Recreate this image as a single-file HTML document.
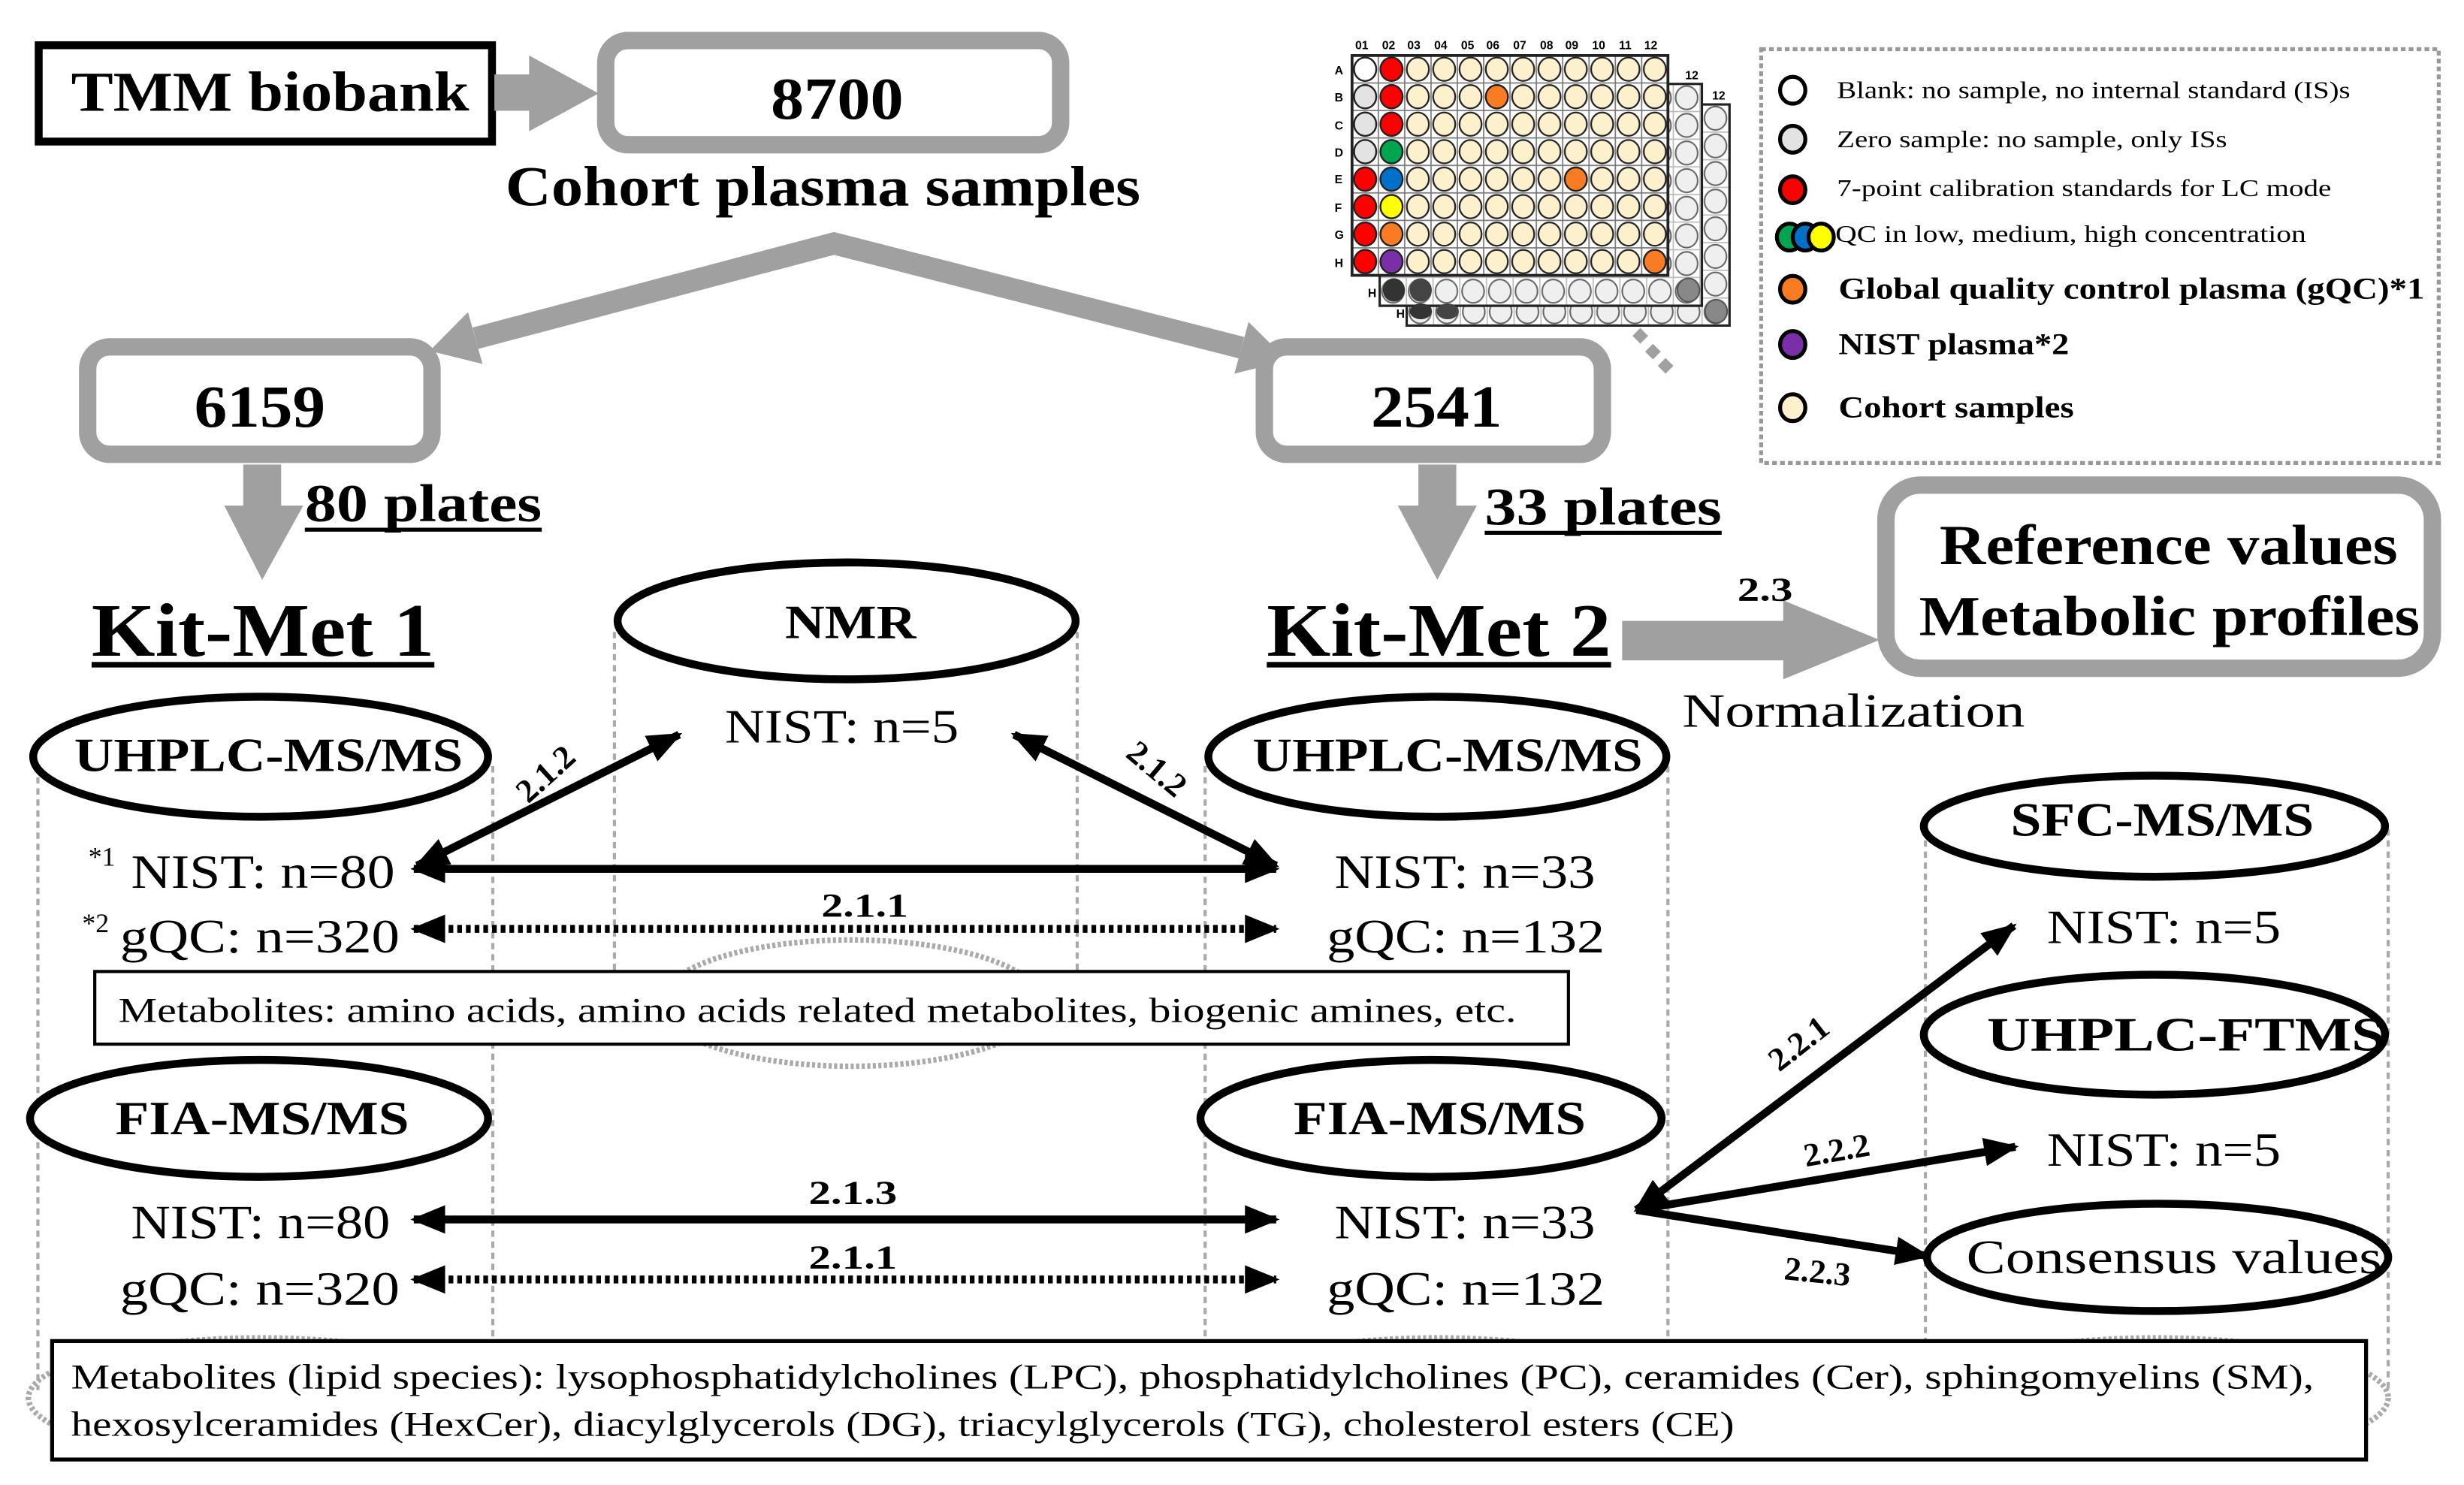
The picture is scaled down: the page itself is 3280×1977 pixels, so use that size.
<!DOCTYPE html>
<html><head><meta charset="utf-8"><style>
html,body{margin:0;padding:0;background:#fff;}
svg{display:block;}
text{font-family:"Liberation Serif",serif;fill:#000;}
.b{font-weight:bold;}
.s{font-family:"Liberation Sans",sans-serif;font-weight:bold;font-size:7.5px;}
</style></head><body>
<svg width="3280" height="1977" viewBox="0 0 1560 940" xmlns="http://www.w3.org/2000/svg">
<defs>
<marker id="ah" viewBox="0 0 10 10" refX="9" refY="5" markerWidth="22" markerHeight="18" markerUnits="userSpaceOnUse" orient="auto-start-reverse" preserveAspectRatio="none"><path d="M0,0 L10,5 L0,10 z" fill="#000"/></marker>
<pattern id="pf" patternUnits="userSpaceOnUse" x="856" y="35" width="16.67" height="17.4"><rect x="0" y="0" width="16.67" height="17.4" fill="#fff" stroke="#777" stroke-width="0.8"/><ellipse cx="8.33" cy="8.7" rx="7" ry="7.4" fill="#fdf0cc" stroke="#222" stroke-width="1.1"/></pattern>
<pattern id="pb" patternUnits="userSpaceOnUse" x="873.5" y="53" width="16.9" height="17.5"><rect x="0" y="0" width="16.9" height="17.5" fill="#fff" stroke="#bbb" stroke-width="0.8"/><ellipse cx="8.45" cy="8.75" rx="7" ry="7.4" fill="#efefef" stroke="#666" stroke-width="1"/></pattern>
<pattern id="pc" patternUnits="userSpaceOnUse" x="890.6" y="66" width="17" height="17.5"><rect x="0" y="0" width="17" height="17.5" fill="#fff" stroke="#bbb" stroke-width="0.8"/><ellipse cx="8.5" cy="8.75" rx="7" ry="7.4" fill="#efefef" stroke="#666" stroke-width="1"/></pattern>
</defs>

<!-- top flow -->
<rect x="24.5" y="28.5" width="287" height="61" fill="#fff" stroke="#000" stroke-width="5"/>
<text x="45" y="70" class="b" font-size="36" textLength="252" lengthAdjust="spacingAndGlyphs">TMM biobank</text>
<rect x="313" y="47" width="24" height="23" fill="#a0a0a0"/>
<polygon points="335,35 379,59 335,83" fill="#a0a0a0"/>
<rect x="383.5" y="25.5" width="288" height="66" rx="14" fill="#fff" stroke="#a0a0a0" stroke-width="11"/>
<text x="488" y="75" class="b" font-size="38" textLength="84" lengthAdjust="spacingAndGlyphs">8700</text>
<text x="320" y="130" class="b" font-size="36" textLength="402" lengthAdjust="spacingAndGlyphs">Cohort plasma samples</text>

<polyline points="301,214 528,154 786,220" fill="none" stroke="#a0a0a0" stroke-width="14" stroke-linejoin="miter"/>
<polygon points="272,222 305.5,230.3 296.3,197.5" fill="#a0a0a0"/>
<polygon points="815,228 781.5,236.5 790.5,203.7" fill="#a0a0a0"/>

<rect x="55.5" y="219.5" width="218" height="68" rx="14" fill="#fff" stroke="#a0a0a0" stroke-width="11"/>
<text x="123" y="270" class="b" font-size="38" textLength="83" lengthAdjust="spacingAndGlyphs">6159</text>
<rect x="800.5" y="219.5" width="214" height="68" rx="14" fill="#fff" stroke="#a0a0a0" stroke-width="11"/>
<text x="868" y="270" class="b" font-size="38" textLength="83" lengthAdjust="spacingAndGlyphs">2541</text>

<rect x="154" y="294" width="24" height="28" fill="#a0a0a0"/>
<polygon points="142,320 192,320 166,367" fill="#a0a0a0"/>
<text x="193" y="330" class="b" font-size="34" textLength="150" lengthAdjust="spacingAndGlyphs">80 plates</text>
<rect x="193" y="334" width="150" height="2.5" fill="#000"/>
<rect x="898" y="294" width="24" height="28" fill="#a0a0a0"/>
<polygon points="885,320 935,320 910,367" fill="#a0a0a0"/>
<text x="940" y="332" class="b" font-size="34" textLength="150" lengthAdjust="spacingAndGlyphs">33 plates</text>
<rect x="940" y="336" width="150" height="2.5" fill="#000"/>

<text x="58" y="415" class="b" font-size="48" textLength="217" lengthAdjust="spacingAndGlyphs">Kit-Met 1</text>
<rect x="58" y="419" width="217" height="3.5" fill="#000"/>
<text x="802" y="415" class="b" font-size="48" textLength="218" lengthAdjust="spacingAndGlyphs">Kit-Met 2</text>
<rect x="802" y="419" width="218" height="3.5" fill="#000"/>

<!-- plate -->
<g>
<rect x="890.6" y="66" width="204.4" height="140" fill="url(#pc)" stroke="#222" stroke-width="1.5"/>
<rect x="873.5" y="53" width="204" height="140.5" fill="url(#pb)" stroke="#222" stroke-width="1.5"/>
<rect x="856" y="35" width="200" height="139.2" fill="url(#pf)" stroke="#222" stroke-width="1.8"/>
<ellipse cx="882.5" cy="183.5" rx="7" ry="7.4" fill="#333"/><ellipse cx="899.5" cy="183.5" rx="7" ry="7.4" fill="#444"/>
<ellipse cx="1069" cy="183.5" rx="7" ry="7.4" fill="#888" stroke="#555"/>
<ellipse cx="1086.5" cy="197" rx="7" ry="7.4" fill="#888" stroke="#555"/>
<ellipse cx="899.5" cy="197" rx="7" ry="5" fill="#333"/><ellipse cx="916.5" cy="197" rx="7" ry="5" fill="#444"/>
<text x="1067" y="50" class="s">12</text><text x="1084" y="63" class="s">12</text>
<text x="866" y="188" class="s">H</text><text x="884" y="201" class="s">H</text>
<g class="s">
<text x="858" y="31" class="s">01</text><text x="875" y="31" class="s">02</text><text x="891" y="31" class="s">03</text><text x="908" y="31" class="s">04</text><text x="925" y="31" class="s">05</text><text x="941" y="31" class="s">06</text><text x="958" y="31" class="s">07</text><text x="975" y="31" class="s">08</text><text x="991" y="31" class="s">09</text><text x="1008" y="31" class="s">10</text><text x="1025" y="31" class="s">11</text><text x="1041" y="31" class="s">12</text>
<text x="845" y="47" class="s">A</text><text x="845" y="64" class="s">B</text><text x="845" y="82" class="s">C</text><text x="845" y="99" class="s">D</text><text x="845" y="116" class="s">E</text><text x="845" y="134" class="s">F</text><text x="845" y="151" class="s">G</text><text x="845" y="169" class="s">H</text>
</g>
<g stroke="#222" stroke-width="1.1">
<ellipse cx="864.3" cy="43.7" rx="7" ry="7.4" fill="#fff"/>
<ellipse cx="864.3" cy="61.1" rx="7" ry="7.4" fill="#e3e3e3"/>
<ellipse cx="864.3" cy="78.5" rx="7" ry="7.4" fill="#e3e3e3"/>
<ellipse cx="864.3" cy="95.9" rx="7" ry="7.4" fill="#e3e3e3"/>
<ellipse cx="864.3" cy="113.3" rx="7" ry="7.4" fill="#f00"/>
<ellipse cx="864.3" cy="130.7" rx="7" ry="7.4" fill="#f00"/>
<ellipse cx="864.3" cy="148.1" rx="7" ry="7.4" fill="#f00"/>
<ellipse cx="864.3" cy="165.5" rx="7" ry="7.4" fill="#f00"/>
<ellipse cx="881" cy="43.7" rx="7" ry="7.4" fill="#f00"/>
<ellipse cx="881" cy="61.1" rx="7" ry="7.4" fill="#f00"/>
<ellipse cx="881" cy="78.5" rx="7" ry="7.4" fill="#f00"/>
<ellipse cx="881" cy="95.9" rx="7" ry="7.4" fill="#00a550"/>
<ellipse cx="881" cy="113.3" rx="7" ry="7.4" fill="#0070c8"/>
<ellipse cx="881" cy="130.7" rx="7" ry="7.4" fill="#ff0"/>
<ellipse cx="881" cy="148.1" rx="7" ry="7.4" fill="#f97b22"/>
<ellipse cx="881" cy="165.5" rx="7" ry="7.4" fill="#7a2ea8"/>
<ellipse cx="947.7" cy="61.1" rx="7" ry="7.4" fill="#f97b22"/>
<ellipse cx="997.7" cy="113.3" rx="7" ry="7.4" fill="#f97b22"/>
<ellipse cx="1047.7" cy="165.5" rx="7" ry="7.4" fill="#f97b22"/>
</g>
<g fill="#a0a0a0"><rect x="1035" y="209" width="7" height="7" transform="rotate(45 1038.5 212.5)"/><rect x="1043" y="219" width="7" height="7" transform="rotate(45 1046.5 222.5)"/><rect x="1051" y="228" width="7" height="7" transform="rotate(45 1054.5 231.5)"/></g>
</g>

<!-- legend -->
<rect x="1115" y="31" width="429" height="262" fill="none" stroke="#999" stroke-width="2.5" stroke-dasharray="3 2"/>
<g stroke="#000" stroke-width="2.5">
<ellipse cx="1135" cy="57" rx="8" ry="8.5" fill="#fff"/>
<ellipse cx="1135" cy="88" rx="8" ry="8.5" fill="#e3e3e3"/>
<ellipse cx="1135" cy="120" rx="8" ry="8.5" fill="#f00"/>
<ellipse cx="1133" cy="150" rx="8" ry="8.5" fill="#00a550"/>
<ellipse cx="1143" cy="150" rx="8" ry="8.5" fill="#0070c8"/>
<ellipse cx="1153" cy="150" rx="8" ry="8.5" fill="#ff0"/>
<ellipse cx="1135" cy="183" rx="8" ry="8.5" fill="#f97b22"/>
<ellipse cx="1135" cy="218" rx="8" ry="8.5" fill="#7a2ea8"/>
<ellipse cx="1135" cy="258" rx="8" ry="8.5" fill="#fdf0cc"/>
</g>
<text x="1163" y="62" font-size="15" textLength="325" lengthAdjust="spacingAndGlyphs">Blank: no sample, no internal standard (IS)s</text>
<text x="1163" y="93" font-size="15" textLength="247" lengthAdjust="spacingAndGlyphs">Zero sample: no sample, only ISs</text>
<text x="1163" y="124" font-size="15" textLength="313" lengthAdjust="spacingAndGlyphs">7-point calibration standards for LC mode</text>
<text x="1162" y="153" font-size="15" textLength="298" lengthAdjust="spacingAndGlyphs">QC in low, medium, high concentration</text>
<text x="1164" y="189" class="b" font-size="19" textLength="371" lengthAdjust="spacingAndGlyphs">Global quality control plasma (gQC)*1</text>
<text x="1164" y="224" class="b" font-size="19" textLength="146" lengthAdjust="spacingAndGlyphs">NIST plasma*2</text>
<text x="1164" y="264" class="b" font-size="19" textLength="149" lengthAdjust="spacingAndGlyphs">Cohort samples</text>

<!-- normalization -->
<rect x="1027" y="393" width="104" height="25" fill="#a0a0a0"/>
<polygon points="1129,380 1190,405 1129,430" fill="#a0a0a0"/>
<text x="1100" y="380" class="b" font-size="21" textLength="35" lengthAdjust="spacingAndGlyphs">2.3</text>
<text x="1065" y="460" font-size="30" textLength="217" lengthAdjust="spacingAndGlyphs">Normalization</text>
<rect x="1194" y="307" width="346" height="116" rx="22" fill="#fff" stroke="#a0a0a0" stroke-width="11"/>
<text x="1228" y="357" class="b" font-size="36" textLength="290" lengthAdjust="spacingAndGlyphs">Reference values</text>
<text x="1215" y="402" class="b" font-size="36" textLength="317" lengthAdjust="spacingAndGlyphs">Metabolic profiles</text>

<!-- cylinder dashes -->
<g fill="none" stroke="#aaa" stroke-width="2" stroke-dasharray="4 3">
<line x1="24" y1="485" x2="24" y2="880"/><line x1="312" y1="485" x2="312" y2="880"/>
<line x1="389" y1="400" x2="389" y2="640"/><line x1="682" y1="400" x2="682" y2="640"/>
<line x1="763" y1="485" x2="763" y2="880"/><line x1="1056" y1="485" x2="1056" y2="880"/>
<line x1="1219" y1="525" x2="1219" y2="880"/><line x1="1512" y1="525" x2="1512" y2="880"/>
</g>
<g fill="none" stroke="#aaa" stroke-width="3.5" stroke-dasharray="2 1.5">
<ellipse cx="539" cy="635" rx="121" ry="40"/>
<ellipse cx="165" cy="885" rx="147" ry="38"/>
<ellipse cx="910" cy="885" rx="147" ry="38"/>
<ellipse cx="1365" cy="885" rx="147" ry="38"/>
</g>

<!-- ellipses -->
<g fill="#fff" stroke="#000" stroke-width="5">
<ellipse cx="536" cy="393" rx="145" ry="37"/>
<ellipse cx="165" cy="479" rx="144" ry="38"/>
<ellipse cx="910" cy="479" rx="145" ry="38"/>
<ellipse cx="164" cy="708" rx="145" ry="37"/>
<ellipse cx="906" cy="708" rx="146" ry="37"/>
<ellipse cx="1364" cy="523" rx="146" ry="32"/>
<ellipse cx="1364" cy="655" rx="146" ry="38"/>
<ellipse cx="1366" cy="796" rx="146" ry="34"/>
</g>
<text x="497" y="404" class="b" font-size="30" textLength="83" lengthAdjust="spacingAndGlyphs">NMR</text>
<text x="459" y="470" font-size="30" textLength="148" lengthAdjust="spacingAndGlyphs">NIST: n=5</text>
<text x="47" y="488" class="b" font-size="30" textLength="246" lengthAdjust="spacingAndGlyphs">UHPLC-MS/MS</text>
<text x="793" y="488" class="b" font-size="30" textLength="247" lengthAdjust="spacingAndGlyphs">UHPLC-MS/MS</text>
<text x="73" y="718" class="b" font-size="30" textLength="186" lengthAdjust="spacingAndGlyphs">FIA-MS/MS</text>
<text x="819" y="718" class="b" font-size="30" textLength="185" lengthAdjust="spacingAndGlyphs">FIA-MS/MS</text>
<text x="1273" y="529" class="b" font-size="30" textLength="192" lengthAdjust="spacingAndGlyphs">SFC-MS/MS</text>
<text x="1296" y="597" font-size="30" textLength="148" lengthAdjust="spacingAndGlyphs">NIST: n=5</text>
<text x="1258" y="665" class="b" font-size="30" textLength="252" lengthAdjust="spacingAndGlyphs">UHPLC-FTMS</text>
<text x="1296" y="738" font-size="30" textLength="148" lengthAdjust="spacingAndGlyphs">NIST: n=5</text>
<text x="1245" y="806" font-size="30" textLength="263" lengthAdjust="spacingAndGlyphs">Consensus values</text>

<!-- sample counts -->
<text x="56" y="548" font-size="17">*1</text>
<text x="83" y="562" font-size="30" textLength="167" lengthAdjust="spacingAndGlyphs">NIST: n=80</text>
<text x="52" y="590" font-size="17">*2</text>
<text x="76" y="603" font-size="30" textLength="177" lengthAdjust="spacingAndGlyphs">gQC: n=320</text>
<text x="845" y="562" font-size="30" textLength="165" lengthAdjust="spacingAndGlyphs">NIST: n=33</text>
<text x="840" y="603" font-size="30" textLength="176" lengthAdjust="spacingAndGlyphs">gQC: n=132</text>
<text x="83" y="784" font-size="30" textLength="164" lengthAdjust="spacingAndGlyphs">NIST: n=80</text>
<text x="76" y="826" font-size="30" textLength="177" lengthAdjust="spacingAndGlyphs">gQC: n=320</text>
<text x="845" y="784" font-size="30" textLength="165" lengthAdjust="spacingAndGlyphs">NIST: n=33</text>
<text x="840" y="826" font-size="30" textLength="176" lengthAdjust="spacingAndGlyphs">gQC: n=132</text>

<!-- arrows -->
<g stroke="#000" stroke-width="5" fill="none">
<line x1="262" y1="550" x2="808" y2="550" marker-start="url(#ah)" marker-end="url(#ah)"/>
<line x1="262" y1="588" x2="808" y2="588" marker-start="url(#ah)" marker-end="url(#ah)" stroke-dasharray="3 2.5"/>
<line x1="262" y1="772" x2="808" y2="772" marker-start="url(#ah)" marker-end="url(#ah)"/>
<line x1="262" y1="810" x2="808" y2="810" marker-start="url(#ah)" marker-end="url(#ah)" stroke-dasharray="3 2.5"/>
<line x1="264" y1="548" x2="430" y2="465" marker-start="url(#ah)" marker-end="url(#ah)"/>
<line x1="808" y1="548" x2="642" y2="465" marker-start="url(#ah)" marker-end="url(#ah)"/>
<line x1="1036" y1="766" x2="1275" y2="586" marker-start="url(#ah)" marker-end="url(#ah)"/>
<line x1="1036" y1="766" x2="1276" y2="726" marker-end="url(#ah)"/>
<line x1="1036" y1="766" x2="1220" y2="795" marker-end="url(#ah)"/>
</g>
<text x="520" y="580" class="b" font-size="21" textLength="55" lengthAdjust="spacingAndGlyphs">2.1.1</text>
<text x="512" y="762" class="b" font-size="21" textLength="56" lengthAdjust="spacingAndGlyphs">2.1.3</text>
<text x="512" y="803" class="b" font-size="21" textLength="56" lengthAdjust="spacingAndGlyphs">2.1.1</text>
<text transform="translate(350,495) rotate(-42)" text-anchor="middle" class="b" font-size="21">2.1.2</text>
<text transform="translate(728,492) rotate(40)" text-anchor="middle" class="b" font-size="21">2.1.2</text>
<text transform="translate(1143,666) rotate(-38)" text-anchor="middle" class="b" font-size="21">2.2.1</text>
<text transform="translate(1164,735) rotate(-10)" text-anchor="middle" class="b" font-size="21">2.2.2</text>
<text transform="translate(1150,812) rotate(6)" text-anchor="middle" class="b" font-size="21">2.2.3</text>

<!-- metabolite boxes -->
<rect x="60" y="615" width="933" height="46" fill="#fff" stroke="#000" stroke-width="2"/>
<text x="75" y="647" font-size="22" textLength="885" lengthAdjust="spacingAndGlyphs">Metabolites: amino acids, amino acids related metabolites, biogenic amines, etc.</text>
<rect x="33" y="849" width="1465" height="75" fill="#fff" stroke="#000" stroke-width="2.5"/>
<text x="45" y="879" font-size="22" textLength="1420" lengthAdjust="spacingAndGlyphs">Metabolites (lipid species): lysophosphatidylcholines (LPC), phosphatidylcholines (PC), ceramides (Cer), sphingomyelins (SM),</text>
<text x="45" y="909" font-size="22" textLength="1053" lengthAdjust="spacingAndGlyphs">hexosylceramides (HexCer), diacylglycerols (DG), triacylglycerols (TG), cholesterol esters (CE)</text>
</svg>
</body></html>
